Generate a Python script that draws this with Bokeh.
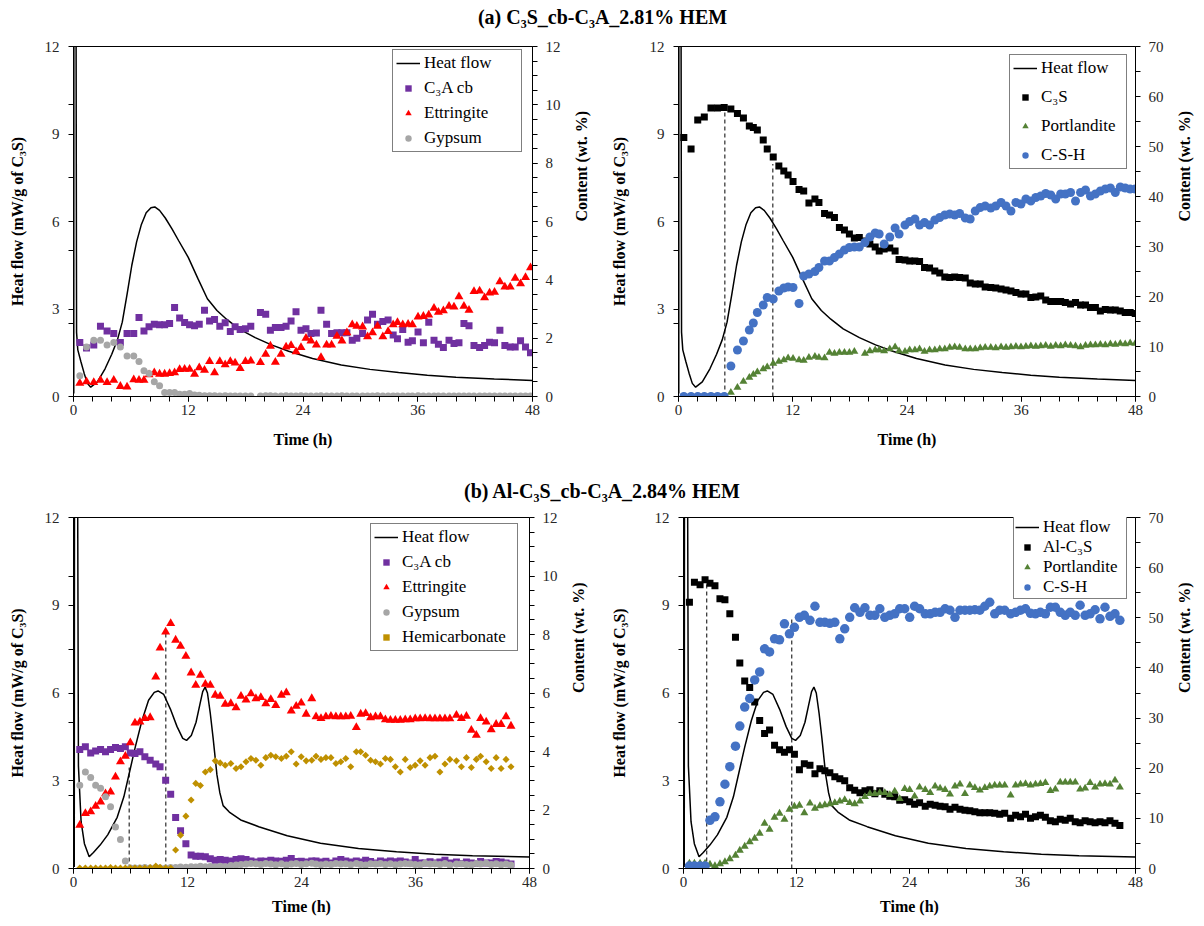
import math
from bokeh.plotting import figure
from bokeh.models import Range1d, LinearAxis, FixedTicker, Legend, LegendItem, Label
from bokeh.layouts import column, row
from bokeh.embed import file_html
from bokeh.resources import INLINE

NaN = float("nan")

# ---------------- tick labels ----------------
x_major = [0, 12, 24, 36, 48]
x_minor = [0, 2, 4, 6, 8, 10, 12, 14, 16, 18, 20, 22, 24, 26, 28, 30, 32, 34, 36, 38, 40, 42, 44, 46, 48]
hf_major = [0, 3, 6, 9, 12]
hf_minor = [2.5, 5, 7.5, 10]
c12_major = [0, 2, 4, 6, 8, 10, 12]
c12_minor = [0.5, 1, 1.5, 2, 2.5, 3, 3.5, 4, 4.5, 5, 5.5, 6, 6.5, 7, 7.5, 8, 8.5, 9, 9.5, 10, 10.5, 11, 11.5]
c70_major = [0, 10, 20, 30, 40, 50, 60, 70]
c70_minor = [5, 15, 25, 35, 45, 55, 65]

# ---------------- heat flow (a) ----------------
t_heat_a = [0.03, 0.06, 0.22, 0.27, 0.32, 0.45, 0.77, 1.11, 1.45, 1.80, 2.50, 3.30, 4.00, 4.60, 5.10,
            5.60, 6.10, 6.60, 7.10, 7.60, 8.10, 8.50, 9.00, 9.60, 10.30, 11.00, 12.00, 13.00, 14.00,
            15.00, 16.00, 17.30, 19.00, 20.70, 22.50, 25.00, 28.00, 31.00, 34.00, 37.00, 40.00, 44.00, 48.00]
heat_a = [0.10, 40.0, 40.0, 12.5, 2.20, 1.60, 1.20, 0.80, 0.45, 0.32, 0.50, 0.95, 1.45, 1.95, 2.55,
          3.50, 4.50, 5.30, 5.90, 6.30, 6.47, 6.50, 6.38, 6.12, 5.75, 5.34, 4.77, 4.05, 3.35,
          2.95, 2.65, 2.32, 2.02, 1.77, 1.55, 1.30, 1.08, 0.93, 0.82, 0.73, 0.66, 0.60, 0.55]

# ---------------- heat flow (b) ----------------
t_heat_b = [0.08, 0.15, 0.36, 0.44, 0.52, 0.80, 1.15, 1.65, 2.10, 2.80, 3.60, 4.60, 5.30, 5.90, 6.50,
            7.20, 7.90, 8.50, 8.90, 9.50, 10.20, 10.90, 11.50, 11.90, 12.40, 12.90, 13.30, 13.60, 13.85,
            14.10, 14.40, 14.70, 15.10, 15.40, 15.75, 16.40, 17.60, 19.50, 22.50, 26.00, 30.00, 34.00,
            38.00, 42.00, 48.00]
heat_b = [0.05, 40.0, 40.0, 12.5, 3.50, 1.60, 0.85, 0.40, 0.55, 0.80, 1.15, 1.75, 2.45, 3.30, 4.15,
          5.05, 5.75, 6.02, 6.07, 5.95, 5.45, 4.85, 4.45, 4.38, 4.55, 5.00, 5.60, 6.05, 6.20,
          6.00, 5.30, 4.45, 3.20, 2.60, 2.15, 1.93, 1.66, 1.43, 1.12, 0.86, 0.68, 0.57,
          0.49, 0.44, 0.39]

# ---------------- panel (a) left: C3A cb / Ettringite / Gypsum ----------------
t_a1 = [0.66, 1.36, 2.12, 2.82, 3.51, 4.21, 4.90, 5.60, 6.30, 6.85, 7.37, 7.90, 8.45, 9.00, 9.53,
        10.05, 10.57, 11.10, 11.62, 12.14, 12.66, 13.15, 13.70, 14.23, 14.75, 15.30, 15.86, 16.40,
        16.90, 17.43, 17.98, 18.54, 19.55, 20.10, 20.59, 21.11, 21.70, 22.23, 22.75, 23.27, 23.79,
        24.31, 24.83, 25.40, 25.88, 26.47, 26.99, 27.55, 28.07, 28.59, 29.15, 29.63, 30.23, 30.75,
        31.27, 31.79, 32.35, 32.90, 33.43, 33.88, 34.43, 34.99, 35.44, 36.03, 36.59, 37.15, 37.70,
        38.16, 38.68, 39.27, 39.79, 40.31, 40.83, 41.36, 41.88, 42.47, 42.99, 43.51, 44.03, 44.59,
        45.11, 45.67, 46.19, 46.75, 47.27, 47.79]
c3a_a = [1.85, 1.66, 1.77, 2.41, 2.25, 2.16, 1.85, 2.16, 2.16, 2.71,
         2.25, 2.39, 2.48, 2.46, 2.46, 2.50, 3.05, 2.69, 2.54, 2.46,
         2.43, 2.48, 2.96, 2.59, 2.64, 2.41, 2.53, 2.23, 2.39, 2.30,
         2.32, 2.41, 2.88, 2.82, 2.27, 2.37, 2.37, 2.41, 2.59, 2.91,
         2.27, 2.32, 2.16, 2.18, 2.96, 2.48, 2.16, 2.19, 2.19, 2.19,
         1.93, 2.00, 2.16, 2.62, 2.82, 2.48, 2.57, 2.62, 2.11, 1.98,
         2.30, 1.86, 1.91, 2.21, 1.84, 2.55, 1.93, 1.79, 1.68, 1.93,
         1.82, 1.84, 2.50, 2.43, 1.75, 1.68, 1.75, 1.86, 1.84, 2.27,
         1.75, 1.70, 1.70, 1.91, 1.70, 1.50]
ett_a = [0.46, 0.51, 0.48, 0.56, 0.48, 0.56, 0.35, 0.33, 0.58, 0.56,
         0.56, 0.75, 0.82, 0.77, 0.77, 0.79, 0.82, 0.93, 0.94, 0.94,
         0.77, 0.99, 0.90, 1.20, 0.82, 1.20, 1.09, 1.20, 1.15, 0.96,
         1.20, 1.22, 1.17, 1.45, 1.73, 1.18, 1.45, 1.70, 1.75, 1.54,
         1.68, 2.00, 1.91, 1.77, 1.34, 1.77, 1.77, 2.07, 1.91, 2.19,
         2.46, 2.41, 2.39, 2.05, 2.19, 2.41, 2.05, 2.23, 2.46, 2.54,
         2.46, 2.48, 2.46, 2.73, 2.75, 2.80, 3.03, 2.89, 2.94, 3.10,
         3.07, 3.42, 3.10, 2.96, 3.60, 3.62, 3.39, 3.55, 3.58, 3.94,
         3.76, 3.76, 4.06, 3.87, 4.08, 4.42]
gyp_a = [0.71, 1.70, 1.93, 1.93, 1.77, 1.85, 1.70, 1.39, 1.39, 1.20,
         0.88, 0.79, 0.51, 0.37, 0.14, 0.14, 0.14, 0.08, 0.08, 0.10,
         0.05, 0.04, 0.03, 0.03, 0.03, 0.02, 0.03, 0.02, 0.02, 0.02,
         0.02, 0.02, 0.02, 0.03, 0.03, 0.02, 0.02, 0.03, 0.02, 0.02,
         0.03, 0.02, 0.02, 0.02, 0.03, 0.02, 0.02, 0.02, 0.03, 0.02,
         0.02, 0.02, 0.02, 0.02, 0.02, 0.03, 0.02, 0.02, 0.02, 0.02,
         0.02, 0.02, 0.02, 0.03, 0.02, 0.02, 0.02, 0.02, 0.02, 0.02,
         0.02, 0.02, 0.02, 0.02, 0.02, 0.02, 0.02, 0.02, 0.02, 0.02,
         0.02, 0.02, 0.02, 0.02, 0.02, 0.02]

# ---------------- panel (a) right: C3S / Portlandite / C-S-H ----------------
t_a2 = [0.56, 1.32, 2.02, 2.71, 3.41, 4.10, 4.80, 5.50, 6.19, 6.82, 7.44, 7.86, 8.28, 8.90, 9.32,
        9.95, 10.54, 11.06, 11.51, 12.03, 12.66, 13.15, 13.70, 14.33, 14.75, 15.34, 15.86, 16.38,
        16.90, 17.43, 17.95, 18.47, 18.99, 19.58, 20.10, 20.66, 21.08, 21.60, 22.19, 22.75, 23.17,
        23.79, 24.28, 24.83, 25.32, 25.84, 26.37, 26.92, 27.44, 27.97, 28.49, 29.01, 29.53, 30.12,
        30.64, 31.17, 31.69, 32.21, 32.80, 33.32, 33.88, 34.40, 34.92, 35.44, 35.97, 36.49, 37.01,
        37.53, 38.05, 38.57, 39.10, 39.62, 40.14, 40.63, 41.18, 41.70, 42.23, 42.75, 43.27, 43.79,
        44.31, 44.83, 45.36, 45.88, 46.40, 46.92, 47.44, 47.97]
c3s_a = [51.8, 49.5, 55.3, 55.9, 57.7, 57.7, 57.8, 57.5, 56.6, 55.7,
         54.1, 53.8, 53.3, 51.3, 49.5, 47.9, 46.1, 45.1, 44.3, 43.0,
         41.4, 41.1, 38.7, 39.5, 38.8, 36.6, 36.3, 35.8, 33.8, 33.3,
         32.5, 31.7, 31.8, 31.1, 30.5, 29.9, 29.1, 29.5, 29.7, 29.1,
         27.4, 27.3, 27.1, 27.1, 27.0, 25.8, 25.7, 25.1, 24.7, 23.9,
         23.8, 23.9, 23.8, 23.7, 22.7, 22.5, 22.5, 21.9, 21.8, 21.7,
         21.5, 21.3, 21.1, 20.8, 20.5, 20.5, 19.8, 19.9, 20.1, 19.3,
         19.0, 19.0, 19.0, 18.8, 18.5, 18.8, 18.3, 18.3, 17.8, 17.8,
         17.1, 17.4, 17.3, 17.3, 17.1, 16.8, 16.8, 16.6]
ch_a = [0, 0, 0, 0, 0, 0, 0, 0.8, 1.8, 3.0,
        3.8, 4.4, 4.9, 5.5, 5.9, 6.6, 7.0, 7.3, 7.7, 7.6,
        7.3, 7.2, 7.8, 8.0, 7.8, 7.7, 8.8, 8.6, 8.8, 8.8,
        8.8, 9.0, NaN, 8.6, 9.1, 9.3, 9.3, 9.1, 9.5, 9.9,
        9.1, 9.0, 9.3, 9.3, 9.5, 9.0, 9.3, 9.3, 9.5, 9.5,
        9.8, 9.9, 9.8, 9.5, 9.5, 9.5, 9.7, 9.8, 9.8, 9.7,
        9.9, 9.8, 9.9, 10.0, 9.9, 10.0, 10.1, 10.0, 10.1, 10.2,
        10.0, 10.2, 10.1, 10.3, 10.2, 10.1, 9.9, 10.2, 10.3, 10.3,
        10.4, 10.3, 10.5, 10.4, 10.6, 10.5, 10.7, 10.6]
csh_a = [0, 0, 0, 0, 0, 0, 0, 6.1, 9.3, 11.1,
         13.3, 14.7, 16.8, 18.3, 19.8, 19.5, 21.1, 21.7, 21.9, 21.8,
         18.6, 24.1, 24.5, 25.0, 25.8, 27.1, 27.1, 27.8, 28.5, 29.3,
         29.8, 29.9, 29.9, 30.8, 31.9, 32.7, 32.5, 30.5, 31.9, 33.7,
         32.5, 34.3, 35.0, 35.5, 34.3, 34.8, 34.3, 35.3, 35.8, 36.3,
         36.5, 36.3, 36.6, 35.7, 35.5, 37.1, 37.8, 38.1, 37.7, 38.1,
         38.8, 38.1, 37.1, 38.8, 38.5, 39.5, 39.1, 39.8, 40.1, 40.6,
         40.3, 39.5, 40.5, 40.5, 40.8, 39.1, 40.8, 41.3, 40.1, 40.5,
         41.1, 41.5, 41.7, 40.8, 41.9, 41.7, 41.5, 41.5]
dash_a_t = [4.87, 9.91]
dash_a_top = [57.7, 46.5]

# ---------------- panel (b) left: C3A cb / Ettringite / Gypsum / Hemicarbonate ----------------
t_b1 = [0.66, 1.25, 1.81, 2.33, 2.85, 3.37, 3.90, 4.42, 4.94, 5.46, 5.98, 6.47, 6.99, 7.51, 8.07,
        8.66, 9.11, 9.70, 10.23, 10.75, 11.27, 11.83, 12.38, 12.87, 13.36, 13.88, 14.40, 14.92,
        15.44, 15.97, 16.56, 17.11, 17.63, 18.16, 18.68, 19.20, 19.72, 20.24, 20.77, 21.29, 21.88,
        22.40, 22.92, 23.44, 23.97, 24.49, 25.08, 25.53, 26.05, 26.57, 27.10, 27.62, 28.14, 28.66,
        29.18, 29.77, 30.23, 30.75, 31.27, 31.79, 32.31, 32.83, 33.36, 33.88, 34.40, 34.92, 35.44,
        35.97, 36.49, 37.01, 37.53, 38.05, 38.57, 39.10, 39.62, 40.31, 40.83, 41.36, 41.88, 42.40,
        42.85, 43.44, 43.97, 44.49, 45.01, 45.53, 46.05]
c3a_b = [4.07, 4.16, 3.95, 4.02, 4.07, 3.99, 4.07, 4.14, 4.10, 4.16,
         3.95, 3.93, 3.99, 3.82, 3.70, 3.57, 3.48, 3.02, 2.54, 1.74,
         1.29, 0.85, 0.46, 0.42, 0.42, 0.40, 0.33, 0.28, 0.31, 0.28,
         0.26, 0.31, 0.33, 0.31, 0.26, 0.22, 0.26, 0.25, 0.28, 0.26,
         0.25, 0.28, 0.34, 0.24, 0.25, 0.22, 0.26, 0.26, 0.22, 0.25,
         0.19, 0.26, 0.31, 0.26, 0.22, 0.26, 0.22, 0.28, 0.24, 0.19,
         0.26, 0.22, 0.26, 0.23, 0.26, 0.22, 0.19, 0.31, 0.19, 0.19,
         0.23, 0.19, 0.22, 0.28, 0.19, 0.22, 0.17, 0.22, 0.19, 0.17,
         0.24, 0.19, 0.19, 0.24, 0.22, 0.19, 0.15]
ett_b = [1.48, 1.88, 1.94, 2.13, 2.28, 2.56, 2.62, 3.13, 3.65, 3.84,
         4.30, 4.98, 5.01, 5.13, 5.16, 6.55, 7.54, 8.09, 8.38, 7.81,
         7.60, 7.26, 6.69, 6.27, 6.61, 6.30, 6.27, 5.93, 5.89, 5.62,
         5.64, 5.50, 5.89, 5.76, 5.98, 5.81, 5.85, 5.64, 5.78, 5.58,
         5.93, 6.01, 5.39, 5.55, 5.66, 5.28, 5.81, 5.19, 5.13, 5.19,
         5.21, 5.19, 5.19, 5.19, 5.21, 4.82, 5.28, 5.30, 5.16, 5.19,
         5.19, 5.09, 5.07, 5.07, 5.07, 5.09, 5.09, 5.12, 5.12, 5.13,
         5.12, 5.12, 5.12, 5.12, 5.12, 5.24, 5.13, 5.21, 4.73, 4.56,
         5.13, 5.01, 4.75, 4.93, 4.93, 5.19, 4.87]
gyp_b = [2.85, 3.30, 3.11, 2.85, 2.74, 2.45, 2.11, 1.42, 0.99, 0.26,
         0.02, 0.02, 0.02, 0.03, 0.02, 0.03, 0.02, 0.02, 0.03, 0.03,
         0.05, 0.04, 0.06, 0.05, 0.08, 0.06, 0.07, 0.05, 0.08, 0.06,
         0.10, 0.12, 0.14, 0.15, 0.17, 0.16, 0.14, 0.17, 0.15, 0.13,
         0.16, 0.12, 0.15, 0.17, 0.14, 0.16, 0.18, 0.15, 0.13, 0.15,
         0.14, 0.17, 0.15, 0.16, 0.13, 0.17, 0.14, 0.12, 0.16, 0.15,
         0.17, 0.14, 0.16, 0.13, 0.15, 0.17, 0.16, 0.14, 0.13, 0.18,
         0.15, 0.16, 0.14, 0.17, 0.12, 0.15, 0.16, 0.14, 0.13, 0.17,
         0.15, 0.18, 0.14, 0.16, 0.13, 0.15, 0.12]
hc_b = [0.02, 0.02, 0.02, 0.02, 0.02, 0.02, 0.03, 0.02, 0.02, 0.02,
        0.02, 0.02, 0.02, 0.02, 0.03, 0.08, 0.04, 0.02, 0.02, 0.63,
        1.14, 1.79, 2.34, 2.91, 2.84, 3.30, 3.38, 3.68, 3.61, 3.53,
        3.59, 3.42, 3.48, 3.65, 3.76, 3.70, 3.53, 3.79, 3.87, 3.82,
        3.76, 3.84, 3.99, 3.57, 3.82, 3.68, 3.70, 3.84, 3.73, 3.79,
        3.79, 3.59, 3.65, 3.76, 3.48, 3.99, 3.99, 3.87, 3.70, 3.65,
        3.57, 3.76, 3.73, 3.48, 3.30, 3.73, 3.45, 3.53, 3.68, 3.53,
        3.79, 3.84, 3.30, 3.57, 3.73, 3.68, 3.48, 3.79, 3.45, 3.73,
        3.84, 3.65, 3.42, 3.79, 3.42, 3.73, 3.48]
dash_b1_t = [5.86, 9.72]
dash_b1_top = [3.45, 8.09]

# ---------------- panel (b) right: Al-C3S / Portlandite / C-S-H ----------------
t_b2 = [0.63, 1.16, 1.76, 2.29, 2.81, 3.34, 3.87, 4.40, 4.92, 5.52, 5.98, 6.50, 7.03, 7.56, 8.09,
        8.61, 9.14, 9.67, 10.20, 10.72, 11.25, 11.78, 12.31, 12.83, 13.43, 13.96, 14.49, 15.01,
        15.54, 16.07, 16.60, 17.12, 17.65, 18.18, 18.74, 19.27, 19.80, 20.32, 20.85, 21.38, 21.91,
        22.43, 22.96, 23.49, 24.02, 24.54, 25.07, 25.67, 26.20, 26.72, 27.25, 27.78, 28.30, 28.83,
        29.36, 29.89, 30.41, 30.94, 31.47, 32.00, 32.52, 33.05, 33.58, 34.11, 34.74, 35.27, 35.79,
        36.32, 36.85, 37.38, 37.90, 38.43, 38.96, 39.49, 40.01, 40.54, 41.07, 41.60, 42.12, 42.65,
        43.18, 43.71, 44.23, 44.76, 45.29, 45.82, 46.34]
alc3s_b = [53.1, 57.1, 56.6, 57.6, 56.9, 56.4, 53.8, 53.6, 50.8, 46.1,
           41.0, 37.4, 36.1, 33.2, 29.5, 26.9, 27.6, 24.6, 23.7, 23.2,
           23.7, 22.8, 19.7, 20.9, 20.6, 18.9, 19.9, 19.5, 19.1, 18.3,
           17.9, 17.5, 16.1, 15.6, 15.1, 15.5, 15.7, 14.9, 15.5, 14.8,
           14.4, 14.3, 13.6, 13.7, 13.3, 12.8, 13.1, 12.4, 12.8, 12.6,
           12.4, 12.3, 11.8, 12.2, 11.8, 11.6, 11.5, 11.3, 11.1, 11.1,
           11.1, 11.0, 10.8, 11.0, 10.0, 10.6, 10.3, 10.8, 10.0, 10.3,
           10.6, 10.2, 9.5, 9.3, 9.8, 9.6, 10.0, 9.3, 9.1, 9.5,
           9.3, 9.1, 9.3, 9.1, 9.5, 9.0, 8.6]
ch_b = [1.0, 1.0, 1.0, 1.0, 0.8, 0.5, 0.9, 1.3, 1.9, 2.6,
        3.6, 4.4, 5.3, 6.0, 7.0, 9.0, 7.8, 10.2, 11.0, 9.8,
        11.8, 12.4, 12.6, 11.1, 13.0, 12.0, 12.5, 12.7, 12.9, 13.1,
        13.4, 13.7, 13.1, 12.9, 13.4, 14.3, 14.9, 14.9, 15.1, 15.1,
        14.7, 15.4, 13.9, 15.9, 15.7, 14.4, 16.2, 15.7, 15.1, 16.4,
        16.0, 15.7, 14.8, 16.4, 16.8, 14.9, 16.6, 16.1, 15.6, 16.1,
        16.4, 16.6, 16.6, 16.6, 14.6, 16.6, 16.8, 16.9, 16.6, 16.8,
        16.9, 17.1, 15.5, 15.8, 17.2, 17.2, 17.2, 17.2, 15.8, 16.0,
        17.1, 16.2, 16.8, 16.9, 16.8, 17.6, 16.2]
csh_b = [0.5, 0.5, 0.5, 0.5, 9.6, 10.3, 13.3, 16.8, 20.3, 24.4,
         28.4, 32.2, 33.9, 37.6, 39.2, 43.8, 43.2, 45.8, 45.6, 48.8,
         46.8, 48.1, 50.1, 50.5, 49.5, 52.3, 49.1, 49.1, 48.9, 49.1,
         45.8, 47.8, 50.1, 52.0, 51.1, 52.0, 50.5, 50.5, 51.8, 50.1,
         50.5, 50.8, 51.8, 51.8, 50.1, 52.3, 51.8, 50.8, 50.8, 51.1,
         51.1, 51.8, 51.5, 50.1, 51.5, 51.5, 51.5, 51.6, 51.5, 52.3,
         53.1, 50.8, 51.5, 51.5, 50.8, 51.1, 51.5, 51.8, 50.9, 50.8,
         51.1, 50.8, 52.1, 52.1, 51.1, 50.5, 51.1, 50.5, 52.5, 50.5,
         50.8, 51.6, 49.8, 52.1, 50.3, 50.8, 49.5]
dash_b2_t = [2.47, 11.5]
dash_b2_top = [57.8, 49.8]

# ---------------- styling ----------------
FONT = "'Liberation Serif', 'Times New Roman', Tinos, 'DejaVu Serif', serif"
TICK_TEXT = "#262626"
PURPLE = "#7030A0"
RED = "#FF0000"
GRAY = "#A6A6A6"
GREEN = "#548235"
BLUE = "#4472C4"
GOLD = "#BF9000"


def trim(*arrs):
    n = min(len(a) for a in arrs)
    return [list(a[:n]) for a in arrs]


def style_axis(ax, label_standoff, axis_label_standoff):
    ax.axis_line_color = "black"
    ax.axis_line_width = 1
    ax.major_tick_line_color = "black"
    ax.minor_tick_line_color = "black"
    ax.major_tick_in = 0
    ax.major_tick_out = 5
    ax.minor_tick_in = 0
    ax.minor_tick_out = 5
    ax.major_label_text_font = FONT
    ax.major_label_text_font_size = "15px"
    ax.major_label_text_color = TICK_TEXT
    ax.major_label_standoff = label_standoff
    ax.axis_label_text_font = FONT
    ax.axis_label_text_font_size = "16px"
    ax.axis_label_text_font_style = "bold"
    ax.axis_label_text_color = "black"
    ax.axis_label_standoff = axis_label_standoff


def make_panel(bl, br, bt, bb, fw, fh, cmax, cmajor, cminor, stand_l, stand_r, stand_x):
    p = figure(width=bl + fw + br, height=bt + fh + bb,
               x_range=Range1d(0, 48), y_range=Range1d(0, 12),
               output_backend="svg", toolbar_location=None,
               min_border_left=bl, min_border_right=br,
               min_border_top=bt, min_border_bottom=bb)
    p.extra_y_ranges = {"c": Range1d(0, cmax)}
    p.grid.visible = False
    p.outline_line_color = "black"
    p.outline_line_width = 1
    p.background_fill_color = "white"
    p.border_fill_color = "white"
    xa = p.xaxis[0]
    ya = p.yaxis[0]
    xa.ticker = FixedTicker(ticks=x_major, minor_ticks=x_minor)
    ya.ticker = FixedTicker(ticks=hf_major, minor_ticks=hf_minor)
    ra = LinearAxis(y_range_name="c", ticker=FixedTicker(ticks=cmajor, minor_ticks=cminor))
    p.add_layout(ra, "right")
    style_axis(xa, 3, stand_x)
    style_axis(ya, 9, stand_l)
    style_axis(ra, 8, stand_r)
    xa.axis_label = "Time (h)"
    ya.axis_label = "Heat flow (mW/g of C\u2083S)"
    ra.axis_label = "Content (wt. %)"
    ra.axis_label_orientation = math.pi / 2
    return p


def add_legend(p, items, spacing, loc, label_width, padding=3):
    leg = Legend(items=items, location=loc)
    leg.label_text_font = FONT
    leg.label_text_font_size = "17px"
    leg.label_text_color = "black"
    leg.border_line_color = "black"
    leg.border_line_width = 1
    leg.background_fill_color = "white"
    leg.background_fill_alpha = 1
    leg.padding = padding
    leg.spacing = spacing
    leg.margin = 0
    leg.glyph_width = 24
    leg.glyph_height = 16
    leg.label_standoff = 4
    leg.label_height = 16
    leg.label_width = label_width
    p.add_layout(leg)


def title_fig(text, height, y_from_bottom):
    p = figure(width=1204, height=height, x_range=Range1d(0, 1), y_range=Range1d(0, 1),
               output_backend="svg", toolbar_location=None, min_border=0,
               x_axis_location=None, y_axis_location=None, outline_line_color=None)
    p.grid.visible = False
    p.background_fill_color = "white"
    p.border_fill_color = "white"
    p.add_layout(Label(x=602, y=y_from_bottom, x_units="screen", y_units="screen", text=text,
                       text_align="center", text_baseline="middle", text_font=FONT,
                       text_font_size="20px", text_font_style="bold", text_color="black"))
    return p


# ---------------- panel 1 ----------------
p1 = make_panel(73, 70, 10, 64, 459, 350, 12, c12_major, c12_minor, 16, 18, 13)
tx, hy = trim(t_heat_a, heat_a)
r_h1 = p1.line(tx, hy, line_color="black", line_width=1.5)
tt, v1, v2, v3 = trim(t_a1, c3a_a, ett_a, gyp_a)
r1a = p1.scatter(tt, v1, marker="square", size=7, fill_color=PURPLE, line_color=None, y_range_name="c")
r1b = p1.scatter(tt, v2, marker="triangle", size=9, fill_color=RED, line_color=None, y_range_name="c")
r1c = p1.scatter(tt, v3, marker="circle", size=7, fill_color=GRAY, line_color=None, y_range_name="c")
add_legend(p1, [LegendItem(label="Heat flow", renderers=[r_h1]),
                LegendItem(label="C\u2083A cb", renderers=[r1a]),
                LegendItem(label="Ettringite", renderers=[r1b]),
                LegendItem(label="Gypsum", renderers=[r1c])], 5, (319, 244), 94)

# ---------------- panel 2 ----------------
p2 = make_panel(76, 66, 10, 64, 460, 350, 70, c70_major, c70_minor, 19, 18, 13)
r_h2 = p2.line(tx, hy, line_color="black", line_width=1.5)
dt, dtop = trim(dash_a_t, dash_a_top)
p2.segment(x0=dt, y0=[0] * len(dt), x1=dt, y1=dtop, y_range_name="c",
           line_color="black", line_width=1, line_dash="4 3")
tt, v1, v2, v3 = trim(t_a2, c3s_a, ch_a, csh_a)
r2a = p2.scatter(tt, v1, marker="square", size=7, fill_color="black", line_color=None, y_range_name="c")
r2b = p2.scatter(tt, v2, marker="triangle", size=8, fill_color=GREEN, line_color=None, y_range_name="c")
r2c = p2.scatter(tt, v3, marker="circle", size=9, fill_color=BLUE, line_color=None, y_range_name="c")
add_legend(p2, [LegendItem(label="Heat flow", renderers=[r_h2]),
                LegendItem(label="C\u2083S", renderers=[r2a]),
                LegendItem(label="Portlandite", renderers=[r2b]),
                LegendItem(label="C-S-H", renderers=[r2c])], 9, (331, 227), 82)

# ---------------- panel 3 ----------------
p3 = make_panel(73, 73, 10, 54, 456, 351, 12, c12_major, c12_minor, 16, 18, 8)
txb, hyb = trim(t_heat_b, heat_b)
r_h3 = p3.line(txb, hyb, line_color="black", line_width=1.5)
dt, dtop = trim(dash_b1_t, dash_b1_top)
p3.segment(x0=dt, y0=[0] * len(dt), x1=dt, y1=dtop, y_range_name="c",
           line_color="black", line_width=1, line_dash="4 3")
tt, v1, v2, v3, v4 = trim(t_b1, c3a_b, ett_b, gyp_b, hc_b)
r3a = p3.scatter(tt, v1, marker="square", size=7, fill_color=PURPLE, line_color=None, y_range_name="c")
r3b = p3.scatter(tt, v2, marker="triangle", size=9, fill_color=RED, line_color=None, y_range_name="c")
r3c = p3.scatter(tt, v3, marker="circle", size=7, fill_color=GRAY, line_color=None, y_range_name="c")
r3d = p3.scatter(tt, v4, marker="square", angle=math.pi / 4, size=5, fill_color=GOLD, line_color=None,
                 y_range_name="c")
add_legend(p3, [LegendItem(label="Heat flow", renderers=[r_h3]),
                LegendItem(label="C\u2083A cb", renderers=[r3a]),
                LegendItem(label="Ettringite", renderers=[r3b]),
                LegendItem(label="Gypsum", renderers=[r3c]),
                LegendItem(label="Hemicarbonate", renderers=[r3d])], 5, (297, 217), 112)

# ---------------- panel 4 ----------------
p4 = make_panel(81, 66, 10, 54, 455, 351, 70, c70_major, c70_minor, 24, 18, 8)
r_h4 = p4.line(txb, hyb, line_color="black", line_width=1.5)
dt, dtop = trim(dash_b2_t, dash_b2_top)
p4.segment(x0=dt, y0=[0] * len(dt), x1=dt, y1=dtop, y_range_name="c",
           line_color="black", line_width=1, line_dash="4 3")
tt, v1, v2, v3 = trim(t_b2, alc3s_b, ch_b, csh_b)
r4a = p4.scatter(tt, v1, marker="square", size=7, fill_color="black", line_color=None, y_range_name="c")
r4b = p4.scatter(tt, v2, marker="triangle", size=8, fill_color=GREEN, line_color=None, y_range_name="c")
r4c = p4.scatter(tt, v3, marker="circle", size=9.5, fill_color=BLUE, line_color=None, y_range_name="c")
add_legend(p4, [LegendItem(label="Heat flow", renderers=[r_h4]),
                LegendItem(label="Al-C\u2083S", renderers=[r4a]),
                LegendItem(label="Portlandite", renderers=[r4b]),
                LegendItem(label="C-S-H", renderers=[r4c])], 0, (330, 269), 82, padding=1)

t_a = title_fig("(a) C\u2083S_cb-C\u2083A_2.81% HEM", 36, 20)
t_b = title_fig("(b) Al-C\u2083S_cb-C\u2083A_2.84% HEM", 47, 17)

layout = column(t_a, row(p1, p2), t_b, row(p3, p4))
open("out.html", "w").write(file_html(layout, INLINE, "Heat flow and phase content"))
